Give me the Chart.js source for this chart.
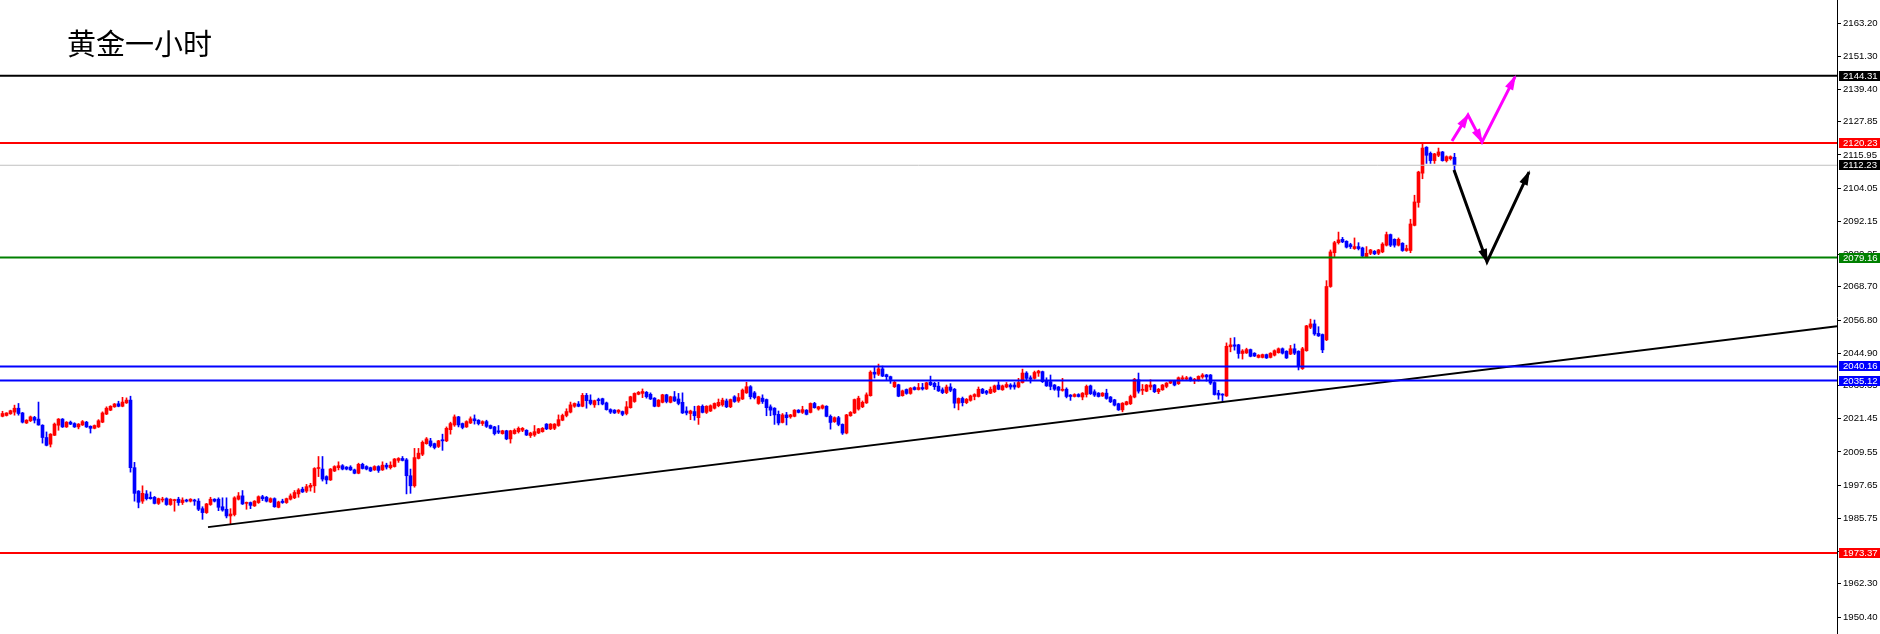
<!DOCTYPE html>
<html>
<head>
<meta charset="utf-8">
<title>黄金一小时</title>
<script src="https://cdn.jsdelivr.net/npm/chart.js@4.4.1/dist/chart.umd.min.js"></script>
<style>
  html, body { margin: 0; padding: 0; background: #ffffff; }
  #wrap { width: 1880px; height: 634px; position: relative; }
</style>
</head>
<body>
<div id="wrap"><canvas id="chart"></canvas></div>
<script>
// Titre du graphique
const TITLE = '黄金一小时';

// Bougies horaires, de gauche à droite
const opens = [
  2022.3, 2022.6, 2023.2, 2023.8, 2025.2, 2023.5, 2019.9, 2020.7, 2021.9, 2021.3,
  2019.1, 2014.7, 2012.3, 2015.5, 2019.1, 2021.3, 2018.5, 2020.2, 2019.7, 2018.5,
  2019.2, 2020.2, 2018.7, 2018.0, 2018.5, 2020.2, 2023.1, 2024.5, 2025.7, 2026.8,
  2025.9, 2027.1, 2028.1, 2003.9, 1995.5, 1991.9, 1994.5, 1993.3, 1993.3, 1991.1,
  1992.3, 1992.8, 1990.7, 1992.1, 1992.6, 1991.4, 1992.3, 1991.9, 1992.3, 1991.9,
  1989.2, 1987.8, 1990.7, 1992.6, 1992.6, 1989.9, 1989.0, 1986.6, 1987.1, 1992.6,
  1993.8, 1991.1, 1991.4, 1990.2, 1991.4, 1993.5, 1993.3, 1991.6, 1992.8, 1989.7,
  1991.9, 1991.4, 1992.6, 1993.1, 1994.5, 1996.2, 1995.5, 1996.9, 1997.4, 2003.6,
  2003.4, 2000.7, 1999.5, 2002.7, 2003.9, 2004.6, 2004.1, 2004.1, 2003.1, 2001.9,
  2005.1, 2004.3, 2003.9, 2003.1, 2004.3, 2003.1, 2004.8, 2003.9, 2004.3, 2006.5,
  2007.2, 2006.7, 2001.0, 1997.4, 2007.2, 2008.7, 2012.5, 2013.5, 2012.5, 2011.5,
  2013.9, 2013.5, 2017.5, 2019.2, 2022.1, 2019.7, 2018.5, 2019.9, 2021.4, 2020.9,
  2019.7, 2020.4, 2019.0, 2018.5, 2017.1, 2016.1, 2017.1, 2014.2, 2016.1, 2016.8,
  2017.3, 2017.3, 2015.4, 2015.6, 2016.3, 2016.8, 2019.5, 2017.8, 2018.0, 2019.0,
  2020.9, 2022.6, 2023.8, 2025.9, 2026.7, 2025.9, 2029.8, 2028.1, 2026.4, 2028.3,
  2028.6, 2027.1, 2024.7, 2024.5, 2023.8, 2024.0, 2023.3, 2025.4, 2027.6, 2030.2,
  2030.5, 2030.9, 2030.2, 2028.8, 2025.9, 2027.3, 2030.0, 2027.3, 2029.3, 2028.5,
  2027.3, 2024.2, 2023.3, 2024.0, 2021.8, 2025.9, 2023.7, 2024.2, 2025.2, 2026.1,
  2026.4, 2027.8, 2025.7, 2029.3, 2027.8, 2028.5, 2030.7, 2032.9, 2030.7, 2026.9,
  2028.8, 2028.3, 2025.7, 2025.2, 2023.0, 2020.1, 2022.8, 2022.1, 2022.3, 2024.5,
  2023.7, 2024.5, 2023.7, 2026.9, 2024.9, 2025.2, 2025.9, 2022.3, 2020.4, 2021.8,
  2019.4, 2016.3, 2022.5, 2023.5, 2024.9, 2025.7, 2027.1, 2029.7, 2038.1, 2037.4,
  2039.3, 2037.2, 2036.5, 2032.9, 2033.6, 2029.7, 2031.9, 2030.5, 2032.6, 2031.9,
  2032.6, 2032.1, 2034.5, 2034.1, 2033.1, 2031.8, 2030.8, 2032.8, 2032.0, 2027.0,
  2028.7, 2027.2, 2028.0, 2029.4, 2029.4, 2032.0, 2031.3, 2030.6, 2031.1, 2033.5,
  2031.8, 2032.8, 2033.5, 2033.5, 2032.8, 2034.4, 2037.8, 2036.1, 2035.9, 2037.8,
  2038.3, 2034.9, 2034.7, 2033.5, 2032.8, 2031.6, 2032.0, 2029.9, 2029.4, 2030.1,
  2029.2, 2030.1, 2033.2, 2031.1, 2030.6, 2029.6, 2030.6, 2029.2, 2028.2, 2026.8,
  2024.6, 2026.5, 2026.8, 2029.2, 2035.4, 2031.6, 2031.3, 2032.8, 2033.5, 2031.1,
  2031.8, 2033.0, 2034.2, 2034.9, 2034.0, 2035.6, 2035.6, 2036.1, 2035.2, 2035.2,
  2036.4, 2037.1, 2037.1, 2034.4, 2030.6, 2030.1, 2029.6, 2047.2, 2047.9, 2047.9,
  2044.8, 2045.0, 2046.2, 2044.9, 2043.4, 2043.4, 2044.4, 2043.4, 2044.2, 2045.1,
  2046.5, 2045.6, 2044.6, 2046.5, 2045.6, 2039.4, 2045.8, 2054.2, 2055.4, 2052.0,
  2051.6, 2049.7, 2068.8, 2080.9, 2084.5, 2085.7, 2085.0, 2083.8, 2082.4, 2083.1,
  2082.6, 2079.5, 2080.7, 2081.4, 2080.7, 2081.2, 2083.6, 2087.4, 2085.7, 2083.6,
  2084.3, 2081.7, 2081.7, 2090.7, 2098.9, 2109.4, 2118.7, 2116.5, 2113.9, 2115.8,
  2117.0, 2113.9, 2114.6, 2115.1
];
const highs = [
  2024.1, 2023.6, 2024.5, 2026.3, 2026.9, 2023.7, 2021.1, 2022.4, 2022.3, 2027.4,
  2019.3, 2016.7, 2016.1, 2019.9, 2021.5, 2021.5, 2020.4, 2020.6, 2020.0, 2019.7,
  2020.8, 2020.5, 2018.9, 2019.2, 2021.1, 2023.9, 2025.7, 2026.1, 2026.9, 2027.7,
  2029.1, 2028.9, 2029.5, 2005.8, 1995.7, 1997.4, 1995.7, 1995.2, 1993.6, 1993.0,
  1993.3, 1993.1, 1992.8, 1992.6, 1993.3, 1993.1, 1992.6, 1992.8, 1992.6, 1992.8,
  1989.9, 1991.1, 1993.3, 1992.8, 1993.1, 1993.1, 1993.1, 1989.2, 1993.5, 1995.0,
  1995.7, 1991.6, 1991.6, 1992.1, 1993.8, 1994.0, 1993.6, 1993.1, 1993.1, 1991.9,
  1992.6, 1993.0, 1994.5, 1995.7, 1996.4, 1996.9, 1997.9, 1998.3, 2003.9, 2007.9,
  2007.9, 2001.0, 2003.6, 2004.6, 2006.0, 2005.0, 2004.3, 2004.6, 2003.4, 2005.5,
  2005.5, 2004.6, 2004.1, 2004.6, 2004.6, 2006.0, 2005.5, 2006.0, 2007.2, 2007.5,
  2007.9, 2007.2, 2003.4, 2010.8, 2010.8, 2013.5, 2014.7, 2014.4, 2012.7, 2013.7,
  2015.9, 2018.5, 2020.2, 2022.8, 2022.3, 2019.9, 2020.7, 2022.1, 2022.8, 2021.1,
  2020.7, 2020.9, 2019.2, 2018.7, 2019.0, 2017.3, 2017.3, 2017.3, 2017.8, 2018.5,
  2018.3, 2017.5, 2016.6, 2019.0, 2018.0, 2018.3, 2019.7, 2019.7, 2019.7, 2022.8,
  2023.1, 2025.0, 2027.4, 2027.1, 2027.6, 2030.5, 2030.5, 2030.0, 2028.1, 2028.8,
  2028.8, 2027.4, 2025.0, 2024.7, 2024.7, 2024.2, 2027.6, 2029.5, 2030.7, 2031.2,
  2032.1, 2031.2, 2030.7, 2029.0, 2028.3, 2030.2, 2030.2, 2029.5, 2031.2, 2030.5,
  2030.7, 2025.7, 2024.5, 2025.9, 2026.1, 2026.4, 2026.1, 2026.4, 2027.1, 2028.5,
  2028.8, 2028.5, 2028.5, 2029.7, 2030.5, 2032.1, 2034.5, 2033.3, 2031.2, 2029.5,
  2030.0, 2028.5, 2026.4, 2025.4, 2024.2, 2023.3, 2023.7, 2023.0, 2024.7, 2024.7,
  2025.9, 2024.7, 2027.1, 2027.3, 2025.9, 2026.4, 2026.1, 2022.8, 2022.1, 2022.3,
  2019.6, 2023.0, 2024.0, 2028.5, 2029.5, 2027.8, 2030.7, 2038.6, 2039.8, 2041.0,
  2040.3, 2037.4, 2036.7, 2034.8, 2033.8, 2031.7, 2032.1, 2032.6, 2032.9, 2034.1,
  2034.1, 2034.5, 2036.7, 2034.5, 2034.5, 2032.5, 2033.5, 2034.0, 2032.3, 2028.9,
  2029.2, 2028.7, 2029.9, 2030.4, 2032.8, 2032.3, 2031.6, 2032.8, 2033.5, 2034.7,
  2033.5, 2034.4, 2034.0, 2034.4, 2035.9, 2039.2, 2038.3, 2036.8, 2038.5, 2038.8,
  2038.5, 2036.1, 2037.1, 2033.7, 2033.0, 2035.9, 2032.5, 2030.1, 2030.4, 2030.4,
  2030.8, 2033.5, 2033.5, 2031.8, 2030.8, 2030.8, 2032.0, 2029.4, 2028.4, 2027.0,
  2027.2, 2027.7, 2029.9, 2035.9, 2037.8, 2033.7, 2033.7, 2035.4, 2033.7, 2032.3,
  2033.7, 2034.4, 2035.2, 2035.2, 2036.4, 2036.8, 2036.6, 2036.4, 2035.9, 2036.8,
  2037.6, 2037.3, 2037.3, 2034.7, 2031.6, 2030.4, 2048.6, 2050.3, 2050.5, 2048.1,
  2046.2, 2046.7, 2046.4, 2045.1, 2044.4, 2044.6, 2044.6, 2045.1, 2046.1, 2046.8,
  2046.8, 2045.8, 2047.7, 2048.2, 2045.8, 2047.0, 2054.9, 2057.1, 2056.8, 2054.4,
  2051.8, 2070.9, 2081.9, 2085.0, 2088.3, 2086.4, 2085.2, 2084.3, 2086.2, 2084.5,
  2082.9, 2083.1, 2082.1, 2081.7, 2082.1, 2084.5, 2088.3, 2087.6, 2085.9, 2086.2,
  2084.5, 2083.6, 2092.9, 2101.5, 2110.1, 2120.1, 2118.9, 2117.0, 2116.5, 2118.4,
  2117.2, 2115.6, 2115.6, 2116.5
];
const lows = [
  2022.1, 2022.4, 2023.0, 2022.7, 2022.7, 2019.9, 2019.7, 2020.4, 2019.9, 2019.1,
  2012.7, 2011.7, 2011.3, 2015.4, 2017.3, 2018.3, 2018.3, 2019.3, 2018.3, 2017.8,
  2019.0, 2018.3, 2016.3, 2017.8, 2018.3, 2020.0, 2022.9, 2024.3, 2025.5, 2025.7,
  2025.7, 2026.9, 2002.3, 1991.9, 1989.5, 1991.1, 1992.3, 1992.6, 1990.9, 1990.7,
  1991.6, 1990.4, 1990.4, 1988.3, 1990.4, 1990.7, 1991.6, 1991.6, 1990.4, 1988.5,
  1985.4, 1987.5, 1990.4, 1991.6, 1988.5, 1988.3, 1985.9, 1983.7, 1986.6, 1992.3,
  1990.7, 1989.0, 1989.2, 1990.0, 1991.1, 1992.1, 1991.6, 1991.4, 1989.7, 1989.5,
  1991.1, 1991.1, 1992.3, 1992.8, 1993.3, 1995.0, 1995.0, 1995.5, 1995.0, 2000.7,
  1999.1, 1998.1, 1999.3, 2002.5, 2003.1, 2003.1, 2003.1, 2002.9, 2001.7, 2001.7,
  2003.4, 2003.1, 2002.5, 2002.9, 2002.2, 2002.9, 2003.4, 2003.4, 2004.1, 2005.8,
  2006.3, 1994.5, 1994.7, 1996.9, 2007.0, 2008.2, 2012.3, 2011.3, 2010.6, 2011.1,
  2010.1, 2013.2, 2015.9, 2018.7, 2018.5, 2017.8, 2018.3, 2019.7, 2019.5, 2019.2,
  2019.0, 2018.3, 2017.8, 2015.6, 2016.1, 2015.9, 2013.9, 2012.7, 2015.9, 2016.3,
  2016.8, 2015.4, 2014.7, 2015.1, 2016.1, 2016.6, 2017.5, 2017.5, 2017.5, 2018.7,
  2020.7, 2022.1, 2023.5, 2025.5, 2025.7, 2025.7, 2025.2, 2026.4, 2025.5, 2026.4,
  2026.4, 2024.5, 2023.3, 2023.3, 2023.3, 2022.5, 2022.8, 2025.2, 2027.3, 2030.0,
  2029.0, 2028.8, 2028.3, 2025.7, 2025.7, 2027.1, 2027.1, 2027.1, 2027.6, 2026.4,
  2023.3, 2022.8, 2021.1, 2020.9, 2019.4, 2023.5, 2023.3, 2024.0, 2024.9, 2025.7,
  2025.9, 2025.4, 2025.4, 2027.3, 2027.3, 2028.3, 2030.5, 2028.5, 2028.5, 2026.6,
  2026.9, 2022.5, 2022.5, 2019.4, 2019.2, 2019.9, 2019.2, 2021.6, 2022.1, 2023.5,
  2023.3, 2022.8, 2023.5, 2025.2, 2024.5, 2024.9, 2022.1, 2017.7, 2020.1, 2018.9,
  2015.8, 2016.0, 2022.3, 2023.3, 2024.5, 2025.4, 2026.9, 2029.5, 2036.0, 2036.9,
  2036.5, 2035.3, 2034.1, 2032.6, 2029.3, 2029.5, 2030.2, 2030.2, 2031.7, 2031.7,
  2031.7, 2031.9, 2033.3, 2031.9, 2031.2, 2030.4, 2030.4, 2031.1, 2025.3, 2024.6,
  2026.0, 2026.8, 2027.7, 2028.2, 2029.2, 2030.4, 2030.1, 2030.4, 2030.8, 2031.8,
  2031.6, 2032.5, 2032.0, 2032.0, 2032.5, 2034.2, 2035.2, 2034.2, 2035.6, 2036.6,
  2034.4, 2033.0, 2031.8, 2031.6, 2029.2, 2031.3, 2028.9, 2028.0, 2029.2, 2029.2,
  2028.2, 2029.2, 2030.1, 2029.4, 2029.2, 2029.4, 2028.4, 2027.2, 2026.0, 2024.4,
  2023.9, 2026.3, 2026.5, 2028.9, 2030.6, 2030.1, 2031.1, 2031.8, 2030.8, 2030.4,
  2031.6, 2032.5, 2034.0, 2033.2, 2033.7, 2035.2, 2035.2, 2034.9, 2034.0, 2034.9,
  2035.9, 2034.9, 2033.7, 2029.9, 2028.4, 2027.7, 2029.4, 2045.4, 2046.0, 2043.1,
  2042.8, 2044.8, 2043.6, 2043.7, 2043.2, 2043.2, 2043.0, 2043.2, 2043.9, 2044.9,
  2044.6, 2043.0, 2044.4, 2044.4, 2038.9, 2039.1, 2045.6, 2053.7, 2051.3, 2050.9,
  2045.1, 2049.4, 2068.5, 2079.5, 2084.0, 2084.5, 2082.6, 2082.4, 2082.1, 2081.9,
  2079.5, 2079.3, 2080.2, 2080.2, 2080.2, 2080.9, 2083.3, 2083.1, 2082.9, 2083.3,
  2081.4, 2081.4, 2080.9, 2090.5, 2097.2, 2107.4, 2112.9, 2112.9, 2112.9, 2115.3,
  2113.7, 2113.4, 2114.1, 2109.8
];
const closes = [
  2023.3, 2023.5, 2024.3, 2025.2, 2023.3, 2020.2, 2020.9, 2022.1, 2020.9, 2019.2,
  2014.7, 2011.9, 2015.9, 2019.5, 2021.3, 2018.5, 2020.2, 2019.5, 2018.5, 2019.5,
  2020.4, 2018.5, 2018.0, 2019.0, 2020.7, 2023.5, 2025.2, 2025.9, 2026.7, 2025.9,
  2027.4, 2028.1, 2003.9, 1994.7, 1991.5, 1994.7, 1992.8, 1992.8, 1991.1, 1992.8,
  1992.6, 1990.7, 1992.6, 1992.3, 1991.4, 1992.3, 1991.9, 1992.6, 1991.9, 1989.0,
  1987.8, 1990.9, 1992.6, 1991.9, 1989.7, 1988.7, 1986.6, 1987.3, 1993.1, 1993.8,
  1990.9, 1991.4, 1990.4, 1991.9, 1993.5, 1992.8, 1991.9, 1992.8, 1989.9, 1991.6,
  1991.4, 1992.8, 1993.8, 1995.0, 1995.9, 1995.2, 1997.1, 1997.6, 2003.6, 2003.9,
  1999.8, 1999.5, 2003.4, 2004.3, 2004.6, 2003.4, 2003.4, 2003.1, 2001.9, 2005.1,
  2003.6, 2003.4, 2002.7, 2004.3, 2002.9, 2004.8, 2004.1, 2004.8, 2007.0, 2007.2,
  2006.5, 2001.0, 1997.4, 2007.5, 2009.1, 2013.0, 2014.2, 2011.8, 2011.1, 2013.5,
  2013.5, 2018.0, 2019.7, 2022.1, 2019.2, 2018.3, 2020.4, 2021.4, 2020.7, 2019.7,
  2020.4, 2018.7, 2018.0, 2016.1, 2016.6, 2017.1, 2014.2, 2017.1, 2017.3, 2018.0,
  2018.0, 2015.6, 2016.3, 2016.8, 2017.8, 2018.0, 2017.8, 2019.5, 2019.5, 2021.1,
  2022.6, 2024.0, 2026.4, 2026.9, 2025.9, 2029.8, 2027.9, 2026.9, 2027.9, 2027.9,
  2026.7, 2024.7, 2023.8, 2023.5, 2024.5, 2023.0, 2025.7, 2029.3, 2030.5, 2030.9,
  2031.2, 2029.3, 2028.5, 2025.9, 2028.1, 2030.0, 2027.6, 2029.3, 2027.8, 2026.9,
  2023.5, 2023.5, 2024.2, 2022.5, 2025.9, 2023.7, 2025.9, 2026.1, 2026.9, 2027.3,
  2028.1, 2025.7, 2028.3, 2027.6, 2029.0, 2031.7, 2032.9, 2029.3, 2029.0, 2029.3,
  2027.6, 2025.4, 2024.5, 2022.8, 2019.9, 2022.8, 2021.8, 2022.8, 2024.5, 2023.7,
  2024.7, 2023.0, 2026.9, 2025.4, 2025.7, 2026.1, 2022.3, 2020.1, 2021.8, 2019.4,
  2016.3, 2022.8, 2023.7, 2028.3, 2028.8, 2027.3, 2030.0, 2038.1, 2037.4, 2039.3,
  2036.7, 2036.5, 2035.5, 2034.5, 2029.5, 2031.4, 2030.5, 2032.4, 2031.9, 2032.6,
  2032.1, 2034.3, 2033.6, 2032.9, 2031.4, 2030.8, 2032.8, 2031.6, 2027.0, 2028.7,
  2027.2, 2028.4, 2029.6, 2030.1, 2032.0, 2030.6, 2030.6, 2032.0, 2033.2, 2032.0,
  2033.2, 2033.7, 2032.8, 2032.8, 2034.4, 2037.8, 2035.9, 2035.6, 2038.0, 2038.5,
  2034.7, 2033.2, 2033.0, 2032.0, 2031.6, 2032.0, 2029.4, 2029.4, 2030.1, 2029.4,
  2030.6, 2033.0, 2030.4, 2029.9, 2029.4, 2030.6, 2028.7, 2027.5, 2026.3, 2024.6,
  2027.0, 2027.5, 2029.4, 2035.6, 2031.3, 2032.0, 2033.5, 2033.5, 2031.1, 2032.0,
  2033.5, 2034.2, 2034.9, 2033.5, 2036.1, 2036.1, 2036.1, 2035.2, 2035.6, 2036.6,
  2037.1, 2036.4, 2034.2, 2030.1, 2029.9, 2029.9, 2047.4, 2047.9, 2047.4, 2044.8,
  2045.7, 2046.2, 2043.8, 2043.9, 2044.2, 2044.4, 2043.2, 2044.9, 2045.8, 2046.5,
  2044.9, 2043.2, 2046.5, 2044.9, 2040.1, 2046.5, 2054.7, 2055.4, 2051.8, 2051.1,
  2046.1, 2068.8, 2081.2, 2084.5, 2085.5, 2084.8, 2082.9, 2083.1, 2083.1, 2082.4,
  2079.7, 2080.7, 2081.9, 2080.5, 2081.9, 2084.0, 2087.4, 2083.6, 2083.6, 2085.7,
  2081.7, 2082.4, 2091.2, 2099.1, 2109.8, 2118.4, 2115.8, 2113.9, 2116.3, 2117.0,
  2113.9, 2115.3, 2115.3, 2112.2
];

// Graduations de l'axe des prix
const yTicks = [
  2163.20, 2151.30, 2139.40, 2127.85, 2115.95, 2104.05, 2092.15, 2080.25, 2068.70,
  2056.80, 2044.90, 2033.35, 2021.45, 2009.55, 1997.65, 1985.75, 1973.85, 1962.30, 1950.40
];

// Niveaux horizontaux tracés sur le graphique
const levelPrices = [2144.31, 2120.23, 2112.23, 2079.16, 2040.16, 2035.12, 1973.37];
const levelLineColors = ['#000000', '#ff0000', '#c0c0c0', '#008000', '#0000ff', '#0000ff', '#ff0000'];
const levelTagColors = ['#000000', '#ff0000', '#000000', '#008000', '#0000ff', '#0000ff', '#ff0000'];
const levelWidths = [2, 2, 1, 2, 2, 2, 2];

// Ligne de tendance (index de bougie, prix)
const trendX = [51.375, 458.625];
const trendY = [1982.6, 2054.6];

// Flèches de scénario
const blackArrowX = [362.875, 371.125, 381.625];
const blackArrowY = [2110.5, 2077.6, 2109.8];
const pinkArrowX = [362.375, 366.375, 369.875, 378.125];
const pinkArrowY = [2120.9, 2130.2, 2120.6, 2143.9];

// Étendue des axes
const X_MIN = -0.625, X_MAX = 458.625;
const Y_MIN = 1944.31, Y_MAX = 2171.44;

const UP = '#ff0000', DOWN = '#0000ff';
const candleColors = closes.map((c, i) => (c >= opens[i] ? UP : DOWN));
const wickData = highs.map((h, i) => ({ x: i, y: [lows[i], h] }));
const bodyData = opens.map((o, i) => ({ x: i, y: [o, closes[i]] }));

const toPoints = (xs, ys) => xs.map((x, i) => ({ x: x, y: ys[i] }));

const lineDatasets = levelPrices.map((p, k) => ({
    type: 'line',
    data: [{ x: X_MIN, y: p }, { x: X_MAX, y: p }],
    borderColor: levelLineColors[k],
    borderWidth: levelWidths[k],
    pointRadius: 0,
    order: 1
}));

lineDatasets.push({
    type: 'line',
    data: toPoints(trendX, trendY),
    borderColor: '#000000',
    borderWidth: 2,
    pointRadius: 0,
    order: 1
});

const arrowDatasets = [
    {
        type: 'line',
        data: toPoints(blackArrowX, blackArrowY),
        borderColor: '#000000',
        borderWidth: 3,
        pointRadius: 0,
        arrowHeads: true,
        order: 0
    },
    {
        type: 'line',
        data: toPoints(pinkArrowX, pinkArrowY),
        borderColor: '#ff00ff',
        borderWidth: 3,
        pointRadius: 0,
        arrowHeads: true,
        order: 0
    }
];

// Pointes de flèches au bout de chaque segment
const arrowHeadPlugin = {
    id: 'arrowHeads',
    afterDatasetsDraw(chart) {
        const ctx = chart.ctx;
        chart.data.datasets.forEach((ds, i) => {
            if (!ds.arrowHeads) return;
            const pts = chart.getDatasetMeta(i).data;
            ctx.save();
            ctx.fillStyle = ds.borderColor;
            for (let k = 1; k < pts.length; k++) {
                const a = pts[k - 1], b = pts[k];
                const ang = Math.atan2(b.y - a.y, b.x - a.x);
                const len = 13, half = 4.5;
                const bx = b.x - len * Math.cos(ang), by = b.y - len * Math.sin(ang);
                ctx.beginPath();
                ctx.moveTo(b.x + 2 * Math.cos(ang), b.y + 2 * Math.sin(ang));
                ctx.lineTo(bx + half * Math.sin(ang), by - half * Math.cos(ang));
                ctx.lineTo(bx - half * Math.sin(ang), by + half * Math.cos(ang));
                ctx.closePath();
                ctx.fill();
            }
            ctx.restore();
        });
    }
};

// Étiquettes de prix colorées sur l'axe et titre
const tagPlugin = {
    id: 'priceTags',
    afterDraw(chart) {
        const ctx = chart.ctx;
        const yScale = chart.scales.y;
        const area = chart.chartArea;
        ctx.save();
        ctx.font = '9.6px "Liberation Sans"';
        ctx.textBaseline = 'middle';
        ctx.textAlign = 'left';
        levelPrices.forEach((p, k) => {
            const py = Math.round(yScale.getPixelForValue(p));
            ctx.fillStyle = levelTagColors[k];
            ctx.fillRect(area.right + 2, py - 5, chart.width - area.right - 2, 10);
            ctx.fillStyle = '#ffffff';
            ctx.fillText(p.toFixed(2), area.right + 6, py + 0.5);
        });
        ctx.fillStyle = '#000000';
        ctx.font = '29px "Noto Sans CJK SC"';
        ctx.textBaseline = 'top';
        ctx.fillText(TITLE, 67, 29);
        ctx.restore();
    }
};

new Chart(document.getElementById('chart').getContext('2d'), {
    type: 'bar',
    data: {
        datasets: [
            ...arrowDatasets,
            ...lineDatasets,
            {
                data: bodyData,
                backgroundColor: candleColors,
                borderWidth: 0,
                barThickness: 3,
                minBarLength: 1,
                grouped: false,
                order: 2
            },
            {
                data: wickData,
                backgroundColor: candleColors,
                borderWidth: 0,
                barThickness: 1,
                grouped: false,
                order: 3
            }
        ]
    },
    options: {
        responsive: true,
        maintainAspectRatio: false,
        devicePixelRatio: 1,
        animation: false,
        events: [],
        layout: { padding: 0 },
        plugins: {
            legend: { display: false },
            tooltip: { enabled: false },
            title: { display: false }
        },
        scales: {
            x: {
                type: 'linear',
                min: X_MIN,
                max: X_MAX,
                offset: false,
                display: false
            },
            y: {
                position: 'right',
                min: Y_MIN,
                max: Y_MAX,
                afterBuildTicks: function(scale) {
                    scale.ticks = yTicks.map(v => ({ value: v }));
                },
                afterFit: function(scale) {
                    scale.width = 43;
                    scale.paddingTop = 0;
                    scale.paddingBottom = 0;
                },
                ticks: {
                    autoSkip: false,
                    padding: 2,
                    color: '#000000',
                    font: { family: 'Liberation Sans', size: 9.6 },
                    callback: function(value) {
                        return Number(value).toFixed(2);
                    }
                },
                grid: {
                    drawOnChartArea: false,
                    drawTicks: true,
                    tickLength: 4,
                    color: '#000000'
                },
                border: { display: true, color: '#000000', width: 1 }
            }
        }
    },
    plugins: [arrowHeadPlugin, tagPlugin]
});
</script>
</body>
</html>
